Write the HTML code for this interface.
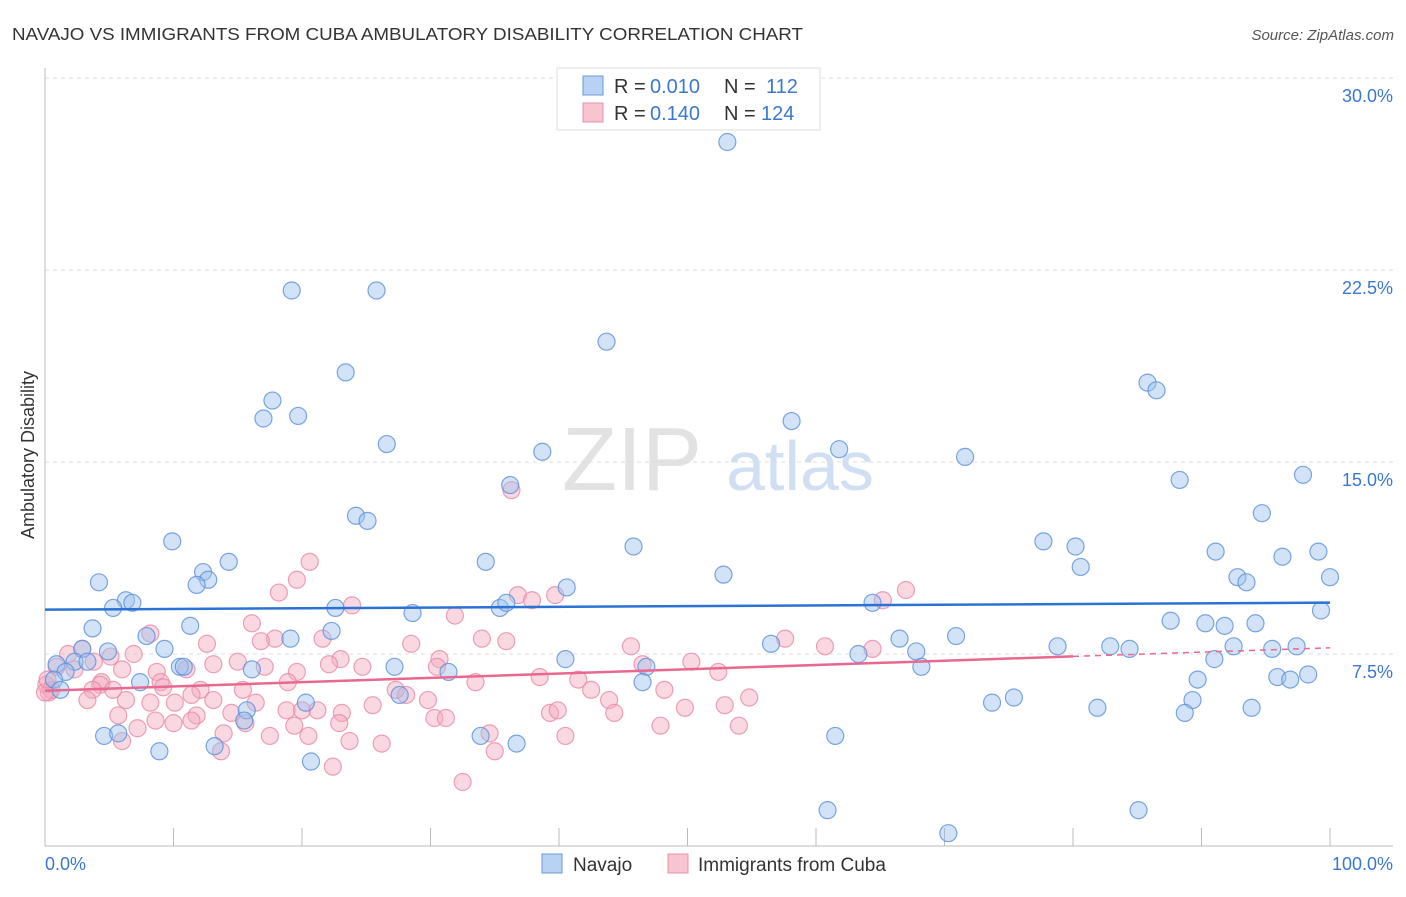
<!DOCTYPE html>
<html><head><meta charset="utf-8"><style>
body{margin:0;background:#fff;font-family:"Liberation Sans",sans-serif}
svg text{font-family:"Liberation Sans",sans-serif}
</style></head><body>
<svg id="chart" width="1406" height="892">
<text x="12" y="40" font-size="17.5" fill="#333" textLength="791" lengthAdjust="spacingAndGlyphs">NAVAJO VS IMMIGRANTS FROM CUBA AMBULATORY DISABILITY CORRELATION CHART</text>
<text x="1394" y="40" font-size="15" fill="#555" text-anchor="end" font-style="italic">Source: ZipAtlas.com</text>
<text x="632" y="490" font-size="90" fill="#e2e2e2" font-family="Liberation Serif" text-anchor="middle">ZIP</text>
<text x="800" y="490" font-size="70" fill="#d0dff3" text-anchor="middle">atlas</text>
<text transform="translate(34,455) rotate(-90)" font-size="18" fill="#333" text-anchor="middle">Ambulatory Disability</text>
<g id="grid"></g><g id="pts"></g><g id="lines"></g>
<g>
<rect x="557" y="68" width="263" height="62" fill="#fff" stroke="#ddd"/>
<rect x="583" y="76" width="20" height="19" fill="#b8d2f4" stroke="#6a9ad8"/>
<rect x="583" y="103" width="20" height="19" fill="#f8c4d2" stroke="#e890a8"/>
<text y="93" font-size="20" fill="#333"><tspan x="614">R =</tspan><tspan x="650" fill="#3a78d0">0.010</tspan><tspan x="724">N =</tspan><tspan x="766" fill="#3a78d0">112</tspan></text>
<text y="120" font-size="20" fill="#333"><tspan x="614">R =</tspan><tspan x="650" fill="#3a78d0">0.140</tspan><tspan x="724">N =</tspan><tspan x="761" fill="#3a78d0">124</tspan></text>
</g>
<g>
<rect x="542" y="854" width="20" height="19" fill="#b8d2f4" stroke="#6a9ad8"/>
<text x="573" y="871" font-size="19" fill="#333">Navajo</text>
<rect x="668" y="854" width="20" height="19" fill="#f8c4d2" stroke="#e890a8"/>
<text x="698" y="871" font-size="19" fill="#333">Immigrants from Cuba</text>
</g>
</svg>
<script>
const yTicks=[7.5,15,22.5,30];
const yTickLabels=["7.5%","15.0%","22.5%","30.0%"];
const xTickLabels=["0.0%","100.0%"];
const navajoX=[53.1,19.2,25.8,43.7,23.4,85.8,86.5,17.7,17.0,19.7,58.1,26.6,38.7,61.8,71.6,97.9,88.3,36.2,24.2,25.1,94.7,9.9,45.8,77.7,80.2,91.1,96.3,99.1,34.3,14.3,80.6,12.3,52.8,92.8,93.5,100,4.2,12.7,11.8,40.6,6.3,6.8,5.3,22.6,35.4,35.9,28.6,64.4,99.3,87.6,90.3,91.8,94.2,3.7,11.3,22.3,7.9,19.1,70.9,56.5,66.5,78.8,82.9,84.4,95.5,97.4,9.3,67.8,2.9,4.9,63.3,92.5,91.0,40.5,0.9,2.3,3.3,10.5,10.8,27.2,16.1,68.2,46.8,31.4,1.6,89.7,98.3,95.9,96.9,0.7,7.4,46.5,1.2,27.6,20.3,73.7,75.4,89.3,93.9,81.9,88.7,15.7,15.5,4.6,5.7,61.5,33.9,36.7,13.2,8.9,20.7,60.9,85.1,70.3];
const navajoY=[27.5,21.7,21.7,19.7,18.5,18.1,17.8,17.4,16.7,16.8,16.6,15.7,15.4,15.5,15.2,14.5,14.3,14.1,12.9,12.7,13.0,11.9,11.7,11.9,11.7,11.5,11.3,11.5,11.1,11.1,10.9,10.7,10.6,10.5,10.3,10.5,10.3,10.4,10.2,10.1,9.6,9.5,9.3,9.3,9.3,9.5,9.1,9.5,9.2,8.8,8.7,8.6,8.7,8.5,8.6,8.4,8.2,8.1,8.2,7.9,8.1,7.8,7.8,7.7,7.7,7.8,7.7,7.6,7.7,7.6,7.5,7.8,7.3,7.3,7.1,7.2,7.2,7.0,7.0,7.0,6.9,7.0,7.0,6.8,6.8,6.5,6.7,6.6,6.5,6.5,6.4,6.4,6.1,5.9,5.6,5.6,5.8,5.7,5.4,5.4,5.2,5.3,4.9,4.3,4.4,4.3,4.3,4.0,3.9,3.7,3.3,1.4,1.4,0.5];
const cubaX=[36.3,20.6,19.6,18.2,67.0,36.8,39.7,37.9,65.2,23.9,31.9,16.1,8.2,17.9,16.8,21.6,34.0,35.9,57.6,12.6,28.5,45.6,60.7,64.4,6.9,1.8,2.9,5.1,23.0,30.7,50.3,15.0,22.1,24.7,13.1,17.1,46.5,3.8,0.9,2.3,6.0,8.7,11.0,19.6,30.5,38.5,52.4,41.5,33.5,4.4,4.3,5.3,3.7,9.0,12.1,18.9,15.4,27.3,28.1,42.5,48.2,0.3,9.2,11.4,13.1,3.3,6.3,8.2,10.1,16.4,29.8,43.9,54.8,18.8,20.0,21.2,23.1,25.5,39.3,39.9,44.3,49.8,52.9,5.7,14.5,11.8,22.9,8.6,10.0,11.4,19.4,15.6,30.3,31.2,47.9,54.0,7.2,13.9,20.5,17.5,34.6,40.5,6.0,23.7,26.2,13.7,35.0,22.4,32.5,0.1,0.5,0,0.2];
const cubaY=[13.9,11.1,10.4,9.9,10.0,9.8,9.8,9.6,9.6,9.4,9.0,8.7,8.3,8.1,8.0,8.1,8.1,8.0,8.1,7.9,7.9,7.8,7.8,7.7,7.5,7.5,7.7,7.4,7.3,7.3,7.2,7.2,7.1,7.0,7.1,7.0,7.1,7.2,7.0,6.9,6.9,6.8,6.9,6.8,7.0,6.6,6.8,6.5,6.4,6.4,6.3,6.1,6.1,6.4,6.1,6.4,6.1,6.1,5.9,6.1,6.1,6.0,6.2,5.9,5.7,5.7,5.7,5.6,5.6,5.6,5.7,5.7,5.8,5.3,5.3,5.3,5.2,5.5,5.2,5.3,5.2,5.4,5.5,5.1,5.2,5.1,4.8,4.9,4.8,4.9,4.7,4.8,5.0,5.0,4.7,4.7,4.6,4.4,4.3,4.3,4.4,4.3,4.1,4.1,4.0,3.7,3.7,3.1,2.5,6.3,6.1,6.0,6.5];
const NS="http://www.w3.org/2000/svg";
const X=v=>45+v*12.85, Y=v=>846-v*25.6;
function mk(t,a,p){const e=document.createElementNS(NS,t);for(const k in a)e.setAttribute(k,a[k]);p.appendChild(e);return e;}
const grid=document.getElementById('grid');
yTicks.forEach((t,i)=>{
 const l=mk('line',{x1:45,x2:1393,y1:Y(t),y2:Y(t),stroke:'#ddd','stroke-dasharray':'4,4'},grid);
 
 
 const tx=mk('text',{x:1393,y:Y(t)+24,'text-anchor':'end','font-size':18,fill:'#3a78d0'},grid);
 tx.textContent=yTickLabels[i];
 
 
});
mk('line',{x1:45,x2:45,y1:68,y2:846,stroke:'#bbb'},grid);
mk('line',{x1:45,x2:1393,y1:846,y2:846,stroke:'#bbb'},grid);
for(let k=0;k<=10;k++){const l=mk('line',{x1:X(k*10),x2:X(k*10),y1:828,y2:846,stroke:'#bbb'},grid);
 
 }
[[0,'start',45],[1,'end',1393]].forEach(([i,a,x])=>{const t=mk('text',{x:x,y:870,'text-anchor':a,'font-size':18,fill:'#3a78d0'},grid);t.textContent=xTickLabels[i];
 
 });
const pts=document.getElementById('pts');
function series(xs,ys,fill,stroke,name){xs.forEach((x,i)=>{const c=mk('circle',{cx:X(x),cy:Y(ys[i]),r:8.5,fill:fill,'fill-opacity':0.45,stroke:stroke,'stroke-opacity':0.8,'stroke-width':1.2},pts);
 
 });}
series(cubaX,cubaY,'#f4a8bf','#e88aa6','cuba-point');
series(navajoX,navajoY,'#9ec2ee','#5a90da','navajo-point');
function reg(xs,ys){const n=xs.length;let mx=0,my=0;xs.forEach((x,i)=>{mx+=x;my+=ys[i];});mx/=n;my/=n;let sxy=0,sxx=0;xs.forEach((x,i)=>{sxy+=(x-mx)*(ys[i]-my);sxx+=(x-mx)**2;});const b=sxy/sxx;return x=>my+b*(x-mx);}
const lines=document.getElementById('lines');
const fb=reg(navajoX,navajoY);
const lb=mk('line',{x1:X(0),x2:X(100),y1:Y(fb(0)),y2:Y(fb(100)),stroke:'#2a72d4','stroke-width':2.5},lines);


const fc=reg(cubaX,cubaY);
const lc=mk('line',{x1:X(0),x2:X(80),y1:Y(fc(0)),y2:Y(fc(80)),stroke:'#e86890','stroke-width':2.5},lines);


const ld=mk('line',{x1:X(80),x2:X(100),y1:Y(fc(80)),y2:Y(fc(100)),stroke:'#e86890','stroke-width':1.5,'stroke-dasharray':'6,5'},lines);


</script>
</body></html>
